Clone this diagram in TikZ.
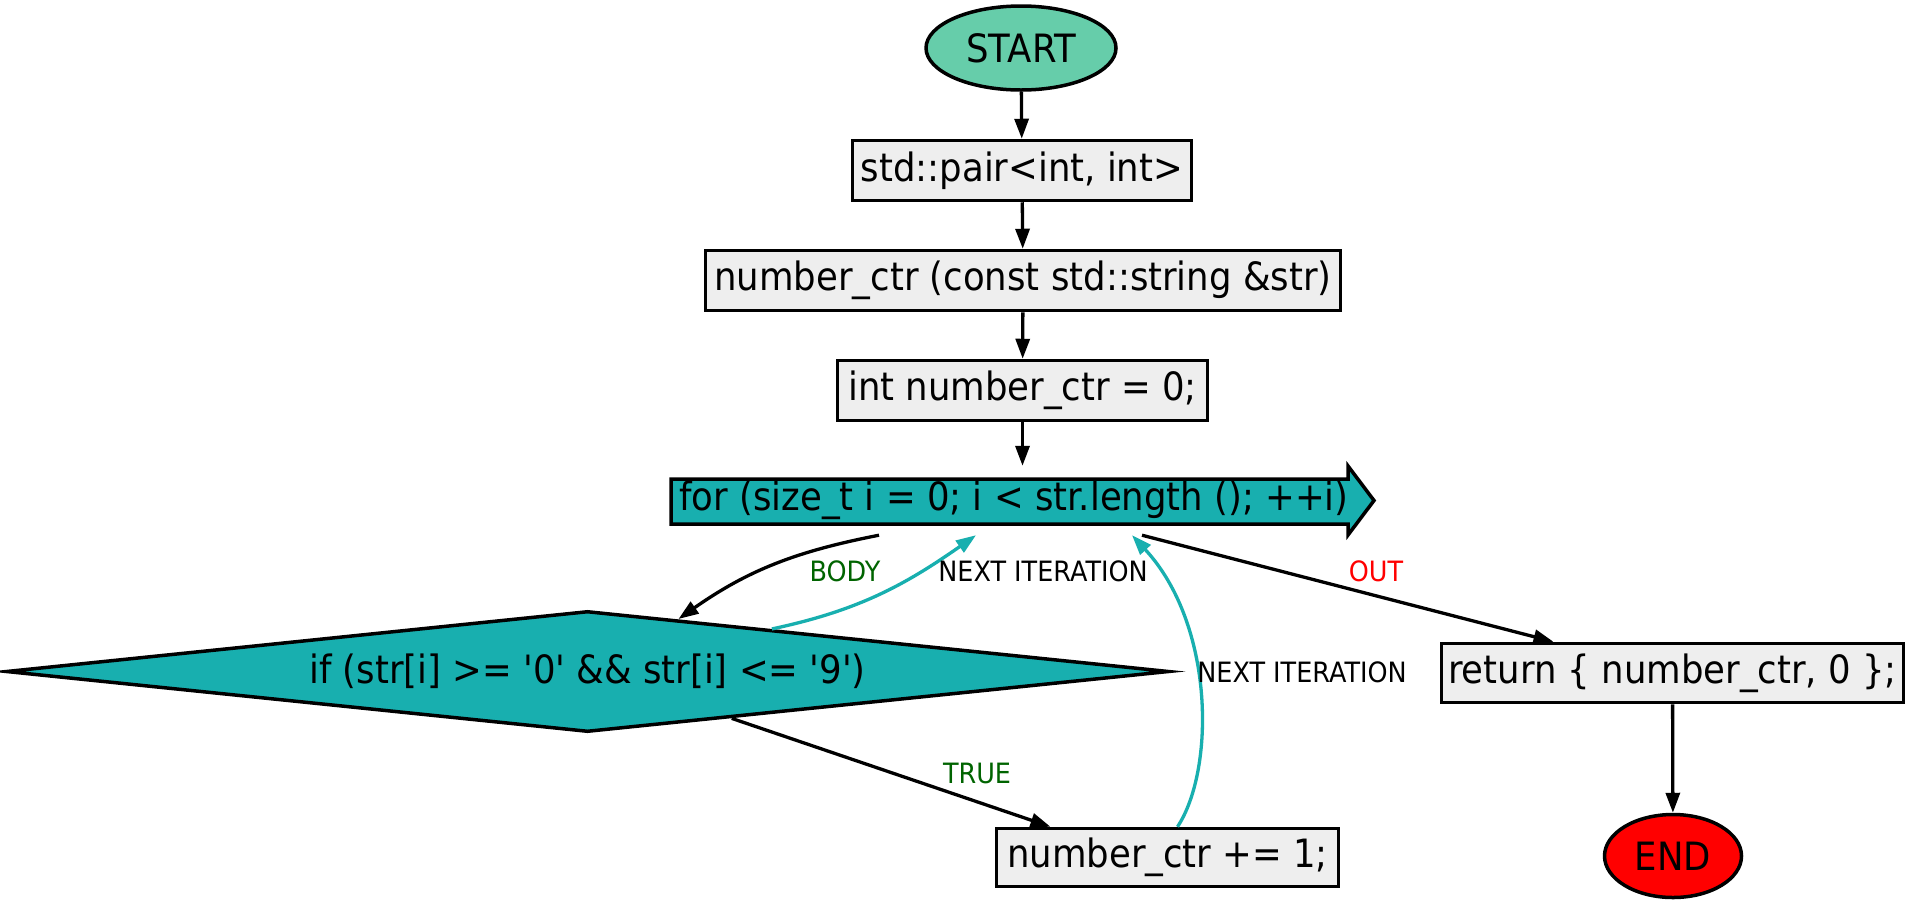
\documentclass[tikz,border=0pt]{standalone}
\usepackage{fontspec}
\setmainfont{DejaVu Sans}[FakeStretch=0.91, Ligatures=TeXOff]
\usetikzlibrary{arrows.meta,shapes.geometric}
\definecolor{startc}{HTML}{66CDAA}
\definecolor{boxgray}{HTML}{EEEEEE}
\definecolor{tealc}{HTML}{18AFAF}
\definecolor{lblgreen}{HTML}{006400}
\begin{document}
\begin{tikzpicture}[x=1pt,y=-1pt,
  box/.style={draw, line width=3.5pt, fill=boxgray, font=\fontsize{39}{44}\selectfont, inner sep=0pt, minimum height=60pt},
  term/.style={ellipse, draw, line width=3.5pt, font=\fontsize{39}{44}\selectfont, inner sep=0pt},
  edge/.style={line width=3.3pt, -{Triangle[length=20pt,width=14pt]}},
  tedge/.style={edge, draw=tealc, -{Triangle[length=20pt,width=14pt,fill=tealc]}},
  lbl/.style={font=\fontsize{28}{30}\selectfont, inner sep=0pt}]
\useasboundingbox (0,0) rectangle (1910,906);
\fill[white] (0,0) rectangle (1910,906);

% nodes
\node[term, fill=startc, minimum width=190pt, minimum height=84pt] (start) at (1021,48) {START};
\node[box, minimum width=339pt] (pair) at (1022,170.5) {std::pair<int, int>};
\node[box, minimum width=635pt] (func) at (1023,280.5) {number\_ctr (const std::string \&str)};
\node[box, minimum width=370pt] (init) at (1022.5,390.5) {int number\_ctr = 0;};

\draw[line width=3.5pt, fill=tealc, line join=miter]
  (671,479) -- (1348,479) -- (1348,466) -- (1374,500.5) -- (1348,535) -- (1348,524) -- (671,524) -- cycle;
\node[font=\fontsize{39}{44}\selectfont, inner sep=0pt, minimum width=660pt, minimum height=69pt] (loop) at (1014,500.5)
  {for (size\_t i = 0; i < str.length (); ++i)};

\node[diamond, aspect=9.6, draw, line width=3.5pt, fill=tealc, inner sep=0pt,
  minimum width=1163pt, minimum height=121pt, font=\fontsize{39}{44}\selectfont] (cond) at (587.5,671.5)
  {if (str[i] >= '0' \&\& str[i] <= '9')};

\node[box, minimum width=342pt, minimum height=58pt] (inc) at (1167.5,857.5) {number\_ctr += 1;};
\node[box, minimum width=462pt, minimum height=59pt] (ret) at (1672.5,673) {return \{ number\_ctr, 0 \};};
\node[term, fill=red, minimum width=137pt, minimum height=83pt] (end) at (1673,856) {END};

% edges
\draw[edge] (start) -- (pair);
\draw[edge] (pair) -- (func);
\draw[edge] (func) -- (init);
\draw[edge] (init) -- (init |- loop.north);

\draw[edge] ([xshift=-135pt]loop.south) to[out=191, in=35] (cond.30);
\draw[tedge] (cond.13.7) to[out=12, in=215] ([xshift=-38pt]loop.south);
\draw[edge] (cond.-18) -- ([xshift=-117pt]inc.north);
\draw[tedge] ([xshift=10pt]inc.north) .. controls (1215,770) and (1215,625) .. ([xshift=118pt]loop.south);
\draw[edge] ([xshift=128pt]loop.south) -- ([xshift=-119pt]ret.north);
\draw[edge] (ret) -- (end);

% labels
\node[lbl, text=lblgreen] (lbody) at (845,571) {BODY};
\node[lbl] (lnext1) at (1043,571) {NEXT ITERATION};
\node[lbl, text=red] (lout) at (1376,571) {OUT};
\node[lbl] (lnext2) at (1302,672) {NEXT ITERATION};
\node[lbl, text=lblgreen] (ltrue) at (977,773) {TRUE};
\end{tikzpicture}
\end{document}
